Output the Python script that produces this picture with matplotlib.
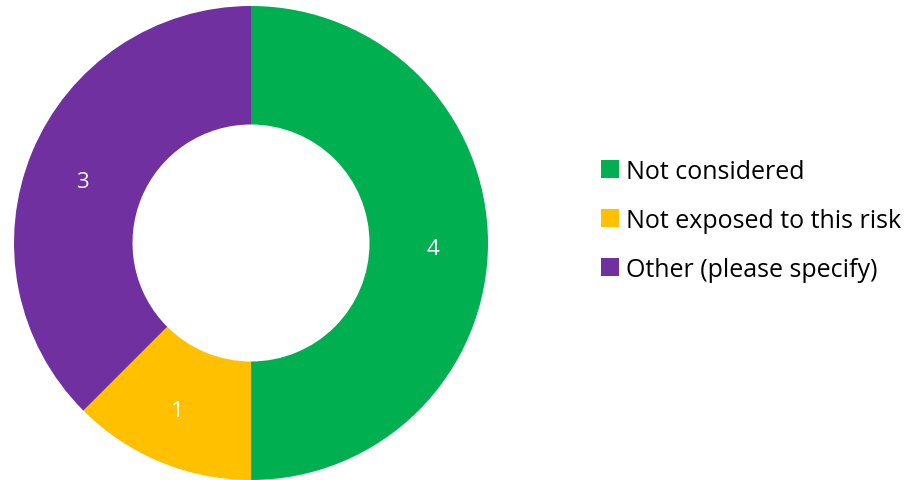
import matplotlib.pyplot as plt
from matplotlib.patches import Patch

labels = ["Not considered", "Not exposed to this risk", "Other (please specify)"]
values = [4, 1, 3]
colors = ["#00B050", "#FFC000", "#7030A0"]

plt.rcParams['font.family'] = ['Open Sans', 'DejaVu Sans']

fig = plt.figure(figsize=(9.09, 4.81), dpi=100)
ax = fig.add_axes([14/909, 0/481, 474/909, 474/481])

wedges, texts = ax.pie(values, colors=colors, startangle=90, counterclock=False,
                       labels=[str(v) for v in values], labeldistance=0.74,
                       wedgeprops=dict(width=0.5, linewidth=0),
                       textprops=dict(color='white', fontsize=16))
# nudge value labels slightly down, like the original
for t in texts:
    x, y = t.get_position()
    t.set_position((x, y - 0.025))
ax.set_xlim(-1, 1)
ax.set_ylim(-1, 1)
ax.set_aspect('equal')

handles = [Patch(facecolor=c, label=l) for c, l in zip(colors, labels)]
fig.legend(handles=handles, loc='center left', bbox_to_anchor=(601/909, 0.54),
           frameon=False, fontsize=18, handlelength=0.7, handleheight=0.7,
           handletextpad=0.3, labelspacing=0.96, borderpad=0, borderaxespad=0)

fig.savefig('out.png', dpi=100)
